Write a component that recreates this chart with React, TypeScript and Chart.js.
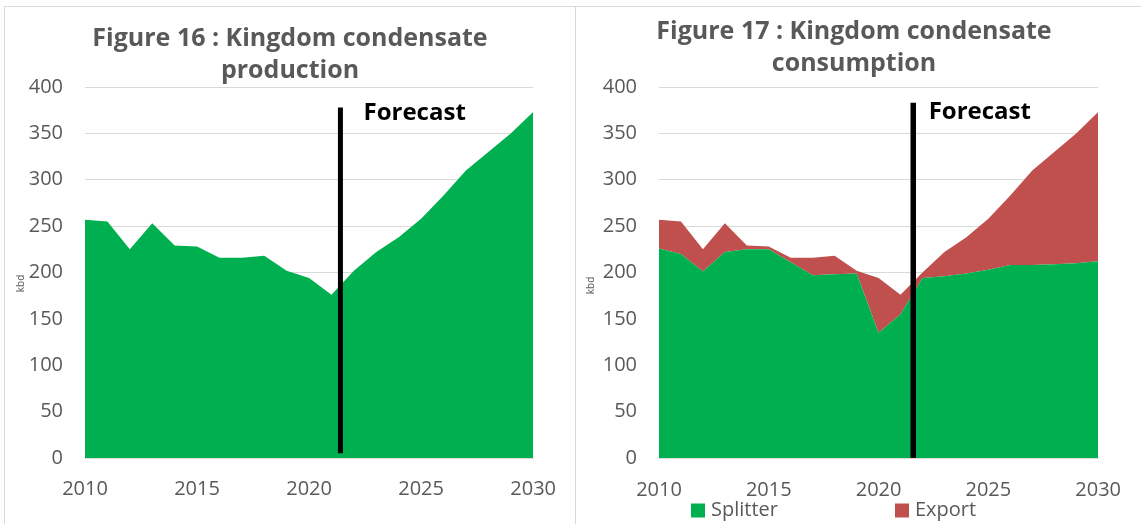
import React, { useEffect, useRef } from 'react';
import { Chart, registerables } from 'chart.js';

Chart.register(...registerables);

// ---------- data ----------
const YEARS = [2010, 2011, 2012, 2013, 2014, 2015, 2016, 2017, 2018, 2019, 2020, 2021, 2022, 2023, 2024, 2025, 2026, 2027, 2028, 2029, 2030];
const PRODUCTION = [257, 255, 225, 253, 229, 228, 216, 216, 218, 202, 194, 176, 202, 222, 238, 258, 283, 310, 330, 350, 373];
const SPLITTER = [226, 220, 201, 222, 225, 225, 211, 197, 198, 199, 135, 155, 194, 196, 199, 203, 208, 208, 209, 210, 212];
const EXPORT = [31, 35, 24, 31, 4, 3, 5, 19, 20, 3, 59, 21, 6, 26, 39, 55, 75, 102, 121, 140, 161];
const X_TICKS = [2010, 2015, 2020, 2025, 2030];
const Y_TICKS = [0, 50, 100, 150, 200, 250, 300, 350, 400];

const TITLE_LEFT = ['Figure 16 : Kingdom condensate', 'production'];
const TITLE_RIGHT = ['Figure 17 : Kingdom condensate', 'consumption'];
const SERIES_NAMES = ['Splitter', 'Export'];
const PRODUCTION_NAME = 'Production';
const UNIT = 'kbd';
const FORECAST_LABEL = 'Forecast';

// forecast marker (data units)
const FORECAST_LEFT_X = [2021.4, 2021.4];
const FORECAST_LEFT_Y = [5, 378];
const FORECAST_RIGHT_X = [2021.58, 2021.58];
const FORECAST_RIGHT_Y = [0, 383];
const FORECAST_TEXT_LEFT = { x: 2022.43, y: 364 };
const FORECAST_TEXT_RIGHT = { x: 2022.28, y: 365 };

// ---------- styles ----------
const GREEN = '#00B050';
const RED = '#C0504D';
const TEXT = '#595959';
const GRID = '#D9D9D9';
const FONT = "'Open Sans', sans-serif";

const pts = (xs: number[], ys: number[]) => xs.map((x, i) => ({ x, y: ys[i] }));

const annotPlugin = {
  id: 'annot',
  afterDatasetsDraw(chart: any, _args: any, opts: any) {
    const { ctx, chartArea, scales } = chart;
    const x = scales.x;
    const y = scales.y;
    ctx.save();
    ctx.font = `bold 24px ${FONT}`;
    ctx.fillStyle = '#000000';
    ctx.textAlign = 'left';
    ctx.textBaseline = 'alphabetic';
    ctx.fillText(opts.text, x.getPixelForValue(opts.textX), y.getPixelForValue(opts.textY));
    ctx.restore();

    ctx.save();
    ctx.font = `10px ${FONT}`;
    ctx.fillStyle = TEXT;
    ctx.translate(chartArea.left - opts.unitDx, (chartArea.top + chartArea.bottom) / 2 + opts.unitDy);
    ctx.rotate(-Math.PI / 2);
    ctx.textAlign = 'center';
    ctx.textBaseline = 'middle';
    ctx.fillText(opts.unit, 0, 0);
    ctx.restore();

    if (opts.legend) {
      ctx.save();
      ctx.font = `20px ${FONT}`;
      ctx.textAlign = 'left';
      ctx.textBaseline = 'middle';
      const items = chart.data.datasets.filter((d: any) => d.inLegend);
      items.forEach((d: any, i: number) => {
        const bx = chartArea.left + opts.legendOffsets[i];
        const by = chartArea.bottom + opts.legendDy;
        ctx.fillStyle = d.backgroundColor;
        ctx.fillRect(bx, by - 7, 14, 14);
        ctx.fillStyle = TEXT;
        ctx.fillText(d.label, bx + 20, by);
      });
      ctx.restore();
    }
  },
};

function baseOptions(
  title: string[],
  titlePad: { top: number; bottom: number },
  layoutRight: number,
  spacerWidth: number,
  yWidth: number,
  xPad: number,
  bottomPad: number,
  annot: any
) {
  return {
    responsive: false,
    animation: false,
    layout: { padding: { left: 0, right: layoutRight, top: 0, bottom: bottomPad } },
    plugins: {
      legend: { display: false },
      tooltip: { enabled: false },
      title: {
        display: true,
        text: title,
        color: TEXT,
        font: { family: FONT, size: 25, weight: 'bold', lineHeight: 1.28 },
        padding: titlePad,
      },
      annot,
    },
    scales: {
      x: {
        type: 'linear',
        min: 2010,
        max: 2030,
        afterBuildTicks: (s: any) => { s.ticks = X_TICKS.map((v) => ({ value: v })); },
        ticks: { color: TEXT, font: { family: FONT, size: 20 }, padding: xPad, callback: (v: any) => String(v), maxRotation: 0 },
        grid: { display: false, drawTicks: false },
        border: { display: true, color: GRID, width: 1 },
        afterFit: (s: any) => { s.height = xPad + 24; },
      },
      y: {
        min: 0,
        max: 400,
        stacked: true,
        afterBuildTicks: (s: any) => { s.ticks = Y_TICKS.map((v) => ({ value: v })); },
        ticks: { color: TEXT, font: { family: FONT, size: 20 }, padding: 22 },
        grid: { color: GRID, lineWidth: 1, drawTicks: false },
        border: { display: false },
        afterFit: (s: any) => { s.width = yWidth; },
      },
      spacer: {
        type: 'linear',
        position: 'right',
        display: true,
        min: 0,
        max: 1,
        ticks: { display: false },
        grid: { display: false, drawTicks: false },
        border: { display: false },
        afterFit: (s: any) => { s.width = spacerWidth; },
      },
    },
    elements: { point: { radius: 0 }, line: { tension: 0 } },
  };
}

function useChart(ref: React.RefObject<HTMLCanvasElement>, makeConfig: () => any) {
  useEffect(() => {
    if (!ref.current) return;
    const chart = new Chart(ref.current, makeConfig());
    return () => chart.destroy();
  }, []);
}

function LeftChart() {
  const ref = useRef<HTMLCanvasElement>(null);
  useChart(ref, () => ({
    type: 'line',
    data: {
      datasets: [
        {
          label: PRODUCTION_NAME,
          data: pts(YEARS, PRODUCTION),
          backgroundColor: GREEN,
          borderColor: GREEN,
          borderWidth: 0,
          fill: 'origin',
          stack: 'main',
          order: 1,
        },
        {
          label: FORECAST_LABEL,
          data: pts(FORECAST_LEFT_X, FORECAST_LEFT_Y),
          borderColor: '#000000',
          borderWidth: 5,
          fill: false,
          stack: 'forecast',
          order: 0,
        },
      ],
    },
    options: baseOptions(TITLE_LEFT, { top: 16, bottom: 0 }, 0, 40, 80, 19, 23, {
      text: FORECAST_LABEL,
      textX: FORECAST_TEXT_LEFT.x,
      textY: FORECAST_TEXT_LEFT.y,
      unit: UNIT,
      unitDx: 64,
      unitDy: 11,
      legend: false,
    }),
    plugins: [annotPlugin],
  }));
  return <canvas ref={ref} width={570} height={517} style={{ display: 'block' }} />;
}

function RightChart() {
  const ref = useRef<HTMLCanvasElement>(null);
  useChart(ref, () => ({
    type: 'line',
    data: {
      datasets: [
        {
          label: SERIES_NAMES[0],
          data: pts(YEARS, SPLITTER),
          backgroundColor: GREEN,
          borderColor: GREEN,
          borderWidth: 0,
          fill: 'origin',
          stack: 'main',
          inLegend: true,
          order: 1,
        },
        {
          label: SERIES_NAMES[1],
          data: pts(YEARS, EXPORT),
          backgroundColor: RED,
          borderColor: RED,
          borderWidth: 0,
          fill: '-1',
          stack: 'main',
          inLegend: true,
          order: 2,
        },
        {
          label: FORECAST_LABEL,
          data: pts(FORECAST_RIGHT_X, FORECAST_RIGHT_Y),
          borderColor: '#000000',
          borderWidth: 5.5,
          fill: false,
          stack: 'forecast',
          order: 0,
        },
      ],
    },
    options: baseOptions(TITLE_RIGHT, { top: 9, bottom: 7 }, 9, 29, 83, 20, 22, {
      text: FORECAST_LABEL,
      textX: FORECAST_TEXT_RIGHT.x,
      textY: FORECAST_TEXT_RIGHT.y,
      unit: UNIT,
      unitDx: 68,
      unitDy: 13,
      legend: true,
      legendOffsets: [32, 236],
      legendDy: 52.5,
    }),
    plugins: [annotPlugin],
  }));
  return <canvas ref={ref} width={565} height={517} style={{ display: 'block' }} />;
}

export default function App() {
  return (
    <div style={{ position: 'absolute', left: 0, top: 0, width: 1141, height: 524, overflow: 'hidden', background: '#fff' }}>
      <div style={{ position: 'absolute', left: 4, top: 6, width: 571, height: 518, boxSizing: 'border-box', borderTop: `1px solid ${GRID}`, borderLeft: `1px solid ${GRID}` }}>
        <LeftChart />
      </div>
      <div style={{ position: 'absolute', left: 575, top: 6, width: 566, height: 518, boxSizing: 'border-box', borderTop: `1px solid ${GRID}`, borderLeft: `1px solid ${GRID}` }}>
        <RightChart />
      </div>
    </div>
  );
}
